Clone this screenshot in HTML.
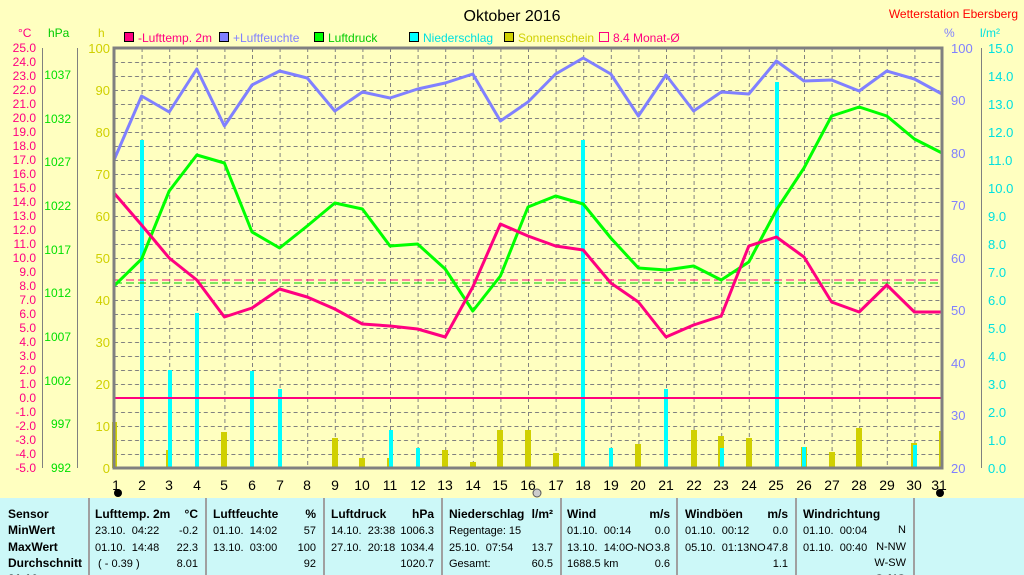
<!DOCTYPE html>
<html><head><meta charset="utf-8"><style>
body{margin:0;width:1024px;height:575px;overflow:hidden;background:#ffffc0;font-family:"Liberation Sans",Arial,sans-serif}
svg{position:absolute;left:0;top:0}
.t{position:absolute;top:498px;left:0;width:1024px;height:77px;background:#ccf8f8;overflow:hidden}
.c{position:absolute;top:0;height:77px;border-left:2px solid #a0a0a0}
.r{position:absolute;font-size:11px;white-space:nowrap;color:#000;line-height:16.3px;top:8px}
.r b{font-size:12px}
</style></head><body>
<svg width="1024" height="498" font-family="Liberation Sans, Arial, sans-serif">
<defs><pattern id="g" x="114" y="48" width="27.6" height="14" patternUnits="userSpaceOnUse">
<line x1="0" y1="0.5" x2="27.6" y2="0.5" stroke="#808080" stroke-dasharray="4,3"/>
<line x1="0.5" y1="0" x2="0.5" y2="14" stroke="#808080" stroke-dasharray="4,3"/>
</pattern></defs>
<rect x="114" y="48" width="828" height="420" fill="url(#g)"/>
<text x="512" y="21" font-size="16" text-anchor="middle">Oktober 2016</text>
<text x="1018" y="18" font-size="12" fill="#ff0000" text-anchor="end">Wetterstation Ebersberg</text>
<g font-size="12">
<rect x="124.5" y="32.5" width="9" height="9" fill="#ff0080" stroke="#000"/><text x="138" y="42" fill="#ff0080">-Lufttemp. 2m</text>
<rect x="219.5" y="32.5" width="9" height="9" fill="#8080ff" stroke="#000"/><text x="233" y="42" fill="#8080ff">+Luftfeuchte</text>
<rect x="314.5" y="32.5" width="9" height="9" fill="#00ff00" stroke="#000"/><text x="328" y="42" fill="#00cc00">Luftdruck</text>
<rect x="409.5" y="32.5" width="9" height="9" fill="#00ffff" stroke="#000"/><text x="423" y="42" fill="#00e0e0">Niederschlag</text>
<rect x="504.5" y="32.5" width="9" height="9" fill="#d0d000" stroke="#000"/><text x="518" y="42" fill="#d0d000">Sonnenschein</text>
<rect x="599.5" y="32.5" width="9" height="9" fill="none" stroke="#ff0080"/><text x="613" y="42" fill="#ff0080">8.4 Monat-Ø</text>
<text x="18" y="37" fill="#ff0080">°C</text><text x="48" y="37" fill="#00cc00">hPa</text><text x="98" y="37" fill="#d0d000">h</text>
<text x="944" y="37" fill="#8080ff">%</text><text x="980" y="37" fill="#00e0e0">l/m²</text>
</g>
<g stroke="#808080"><line x1="42.5" y1="48" x2="42.5" y2="468"/><line x1="77.5" y1="48" x2="77.5" y2="468"/><line x1="981.5" y1="48" x2="981.5" y2="468"/></g>
<g font-size="12" fill="#ff0080" text-anchor="end">
<text x="36" y="52">25.0</text><text x="36" y="66">24.0</text><text x="36" y="80">23.0</text><text x="36" y="94">22.0</text><text x="36" y="108">21.0</text><text x="36" y="122">20.0</text><text x="36" y="136">19.0</text><text x="36" y="150">18.0</text><text x="36" y="164">17.0</text><text x="36" y="178">16.0</text><text x="36" y="192">15.0</text><text x="36" y="206">14.0</text><text x="36" y="220">13.0</text><text x="36" y="234">12.0</text><text x="36" y="248">11.0</text><text x="36" y="262">10.0</text><text x="36" y="276">9.0</text><text x="36" y="290">8.0</text><text x="36" y="304">7.0</text><text x="36" y="318">6.0</text><text x="36" y="332">5.0</text><text x="36" y="346">4.0</text><text x="36" y="360">3.0</text><text x="36" y="374">2.0</text><text x="36" y="388">1.0</text><text x="36" y="402">0.0</text><text x="36" y="416">-1.0</text><text x="36" y="430">-2.0</text><text x="36" y="444">-3.0</text><text x="36" y="458">-4.0</text><text x="36" y="472">-5.0</text>
</g>
<g font-size="12" fill="#00e000" text-anchor="end">
<text x="71" y="79">1037</text><text x="71" y="123">1032</text><text x="71" y="166">1027</text><text x="71" y="210">1022</text><text x="71" y="254">1017</text><text x="71" y="297">1012</text><text x="71" y="341">1007</text><text x="71" y="385">1002</text><text x="71" y="428">997</text><text x="71" y="472">992</text>
</g>
<g font-size="13" fill="#d0d000" text-anchor="end">
<text x="110" y="53">100</text><text x="110" y="95">90</text><text x="110" y="137">80</text><text x="110" y="179">70</text><text x="110" y="221">60</text><text x="110" y="263">50</text><text x="110" y="305">40</text><text x="110" y="347">30</text><text x="110" y="389">20</text><text x="110" y="431">10</text><text x="110" y="473">0</text>
</g>
<g font-size="13" fill="#8080ff">
<text x="951" y="53">100</text><text x="951" y="105">90</text><text x="951" y="158">80</text><text x="951" y="210">70</text><text x="951" y="263">60</text><text x="951" y="315">50</text><text x="951" y="368">40</text><text x="951" y="420">30</text><text x="951" y="473">20</text>
</g>
<g font-size="13" fill="#00e0e0">
<text x="988" y="53">15.0</text><text x="988" y="81">14.0</text><text x="988" y="109">13.0</text><text x="988" y="137">12.0</text><text x="988" y="165">11.0</text><text x="988" y="193">10.0</text><text x="988" y="221">9.0</text><text x="988" y="249">8.0</text><text x="988" y="277">7.0</text><text x="988" y="305">6.0</text><text x="988" y="333">5.0</text><text x="988" y="361">4.0</text><text x="988" y="389">3.0</text><text x="988" y="417">2.0</text><text x="988" y="445">1.0</text><text x="988" y="473">0.0</text>
</g>
<g fill="#d0d000">
<rect x="112" y="422" width="5" height="46"/><rect x="166" y="450" width="6" height="18"/><rect x="221" y="432" width="6" height="36"/><rect x="332" y="438" width="6" height="30"/><rect x="359" y="458" width="6" height="10"/><rect x="387" y="458" width="6" height="10"/><rect x="442" y="450" width="6" height="18"/><rect x="470" y="462" width="6" height="6"/><rect x="497" y="430" width="6" height="38"/><rect x="525" y="430" width="6" height="38"/><rect x="553" y="453" width="6" height="15"/><rect x="635" y="444" width="6" height="24"/><rect x="691" y="430" width="6" height="38"/><rect x="718" y="436" width="6" height="32"/><rect x="746" y="438" width="6" height="30"/><rect x="801" y="447" width="6" height="21"/><rect x="829" y="452" width="6" height="16"/><rect x="856" y="428" width="6" height="40"/><rect x="911" y="443" width="6" height="25"/><rect x="939" y="431" width="4" height="37"/>
</g>
<g fill="#00ffff">
<rect x="140" y="140" width="4" height="328"/><rect x="168" y="370" width="4" height="98"/><rect x="195" y="313" width="4" height="155"/><rect x="250" y="371" width="4" height="97"/><rect x="278" y="389" width="4" height="79"/><rect x="389" y="430" width="4" height="38"/><rect x="416" y="448" width="4" height="20"/><rect x="581" y="140" width="4" height="328"/><rect x="609" y="448" width="4" height="20"/><rect x="664" y="389" width="4" height="79"/><rect x="720" y="448" width="4" height="20"/><rect x="775" y="82" width="4" height="386"/><rect x="802" y="447" width="4" height="21"/><rect x="913" y="445" width="4" height="23"/>
</g>
<line x1="114" y1="398" x2="942" y2="398" stroke="#ff0080" stroke-width="2"/>
<line x1="114" y1="280" x2="942" y2="280" stroke="#ff0080" stroke-dasharray="8,4"/>
<line x1="114" y1="283" x2="942" y2="283" stroke="#00cc00" stroke-dasharray="8,4"/>
<g fill="none" stroke-width="3" stroke-linejoin="round">
<polyline stroke="#00ff00" points="114,286 141.6,259 169.2,191 196.8,155 224.4,163 252,232 279.6,248 307.2,226 334.8,203 362.4,209 390,246 417.6,244 445.2,269 472.8,311 500.4,276 528,207 555.6,196 583.2,204 610.8,238 638.4,268 666,270 693.6,266 721.2,280 748.8,262 776.4,210 804,168 831.6,116 859.2,107 886.8,116 914.4,139 942,153"/>
<polyline stroke="#8080ff" points="114,160 141.6,96 169.2,112 196.8,69 224.4,126 252,85 279.6,71 307.2,78 334.8,111 362.4,92 390,98 417.6,89 445.2,83 472.8,74 500.4,121 528,102 555.6,74 583.2,58 610.8,74 638.4,116 666,75 693.6,111 721.2,92 748.8,94 776.4,61 804,81 831.6,80 859.2,91 886.8,71 914.4,79 942,94"/>
<polyline stroke="#ff0080" points="114,193 141.6,225 169.2,258 196.8,280 224.4,317 252,308 279.6,289 307.2,297 334.8,309 362.4,324 390,326 417.6,329 445.2,337 472.8,287 500.4,224 528,236 555.6,246 583.2,250 610.8,283 638.4,302 666,337 693.6,325 721.2,316 748.8,246 776.4,237 804,257 831.6,302 859.2,312 886.8,285 914.4,312 942,312"/>
</g>
<rect x="114" y="48" width="828" height="420" fill="none" stroke="#808080" stroke-width="3"/>
<g font-size="14" text-anchor="middle">
<text x="116" y="490">1</text><text x="142" y="490">2</text><text x="169" y="490">3</text><text x="197" y="490">4</text><text x="224" y="490">5</text><text x="252" y="490">6</text><text x="280" y="490">7</text><text x="307" y="490">8</text><text x="335" y="490">9</text><text x="362" y="490">10</text><text x="390" y="490">11</text><text x="418" y="490">12</text><text x="445" y="490">13</text><text x="473" y="490">14</text><text x="500" y="490">15</text><text x="528" y="490">16</text><text x="556" y="490">17</text><text x="583" y="490">18</text><text x="611" y="490">19</text><text x="638" y="490">20</text><text x="666" y="490">21</text><text x="694" y="490">22</text><text x="721" y="490">23</text><text x="749" y="490">24</text><text x="776" y="490">25</text><text x="804" y="490">26</text><text x="832" y="490">27</text><text x="859" y="490">28</text><text x="887" y="490">29</text><text x="914" y="490">30</text><text x="939" y="490">31</text>
</g>
<circle cx="118" cy="493" r="4" fill="#000"/><circle cx="537" cy="493" r="4" fill="#ccc" stroke="#555"/><circle cx="940" cy="493" r="4" fill="#000"/>
</svg>
<div class="t">
<div class="c" style="left:88px"></div><div class="c" style="left:205px"></div><div class="c" style="left:323px"></div><div class="c" style="left:441px"></div><div class="c" style="left:560px"></div><div class="c" style="left:676px"></div><div class="c" style="left:795px"></div><div class="c" style="left:913px"></div>
<div class="r" style="left:8px;font-weight:bold;font-size:12px">Sensor<br>MinWert<br>MaxWert<br>Durchschnitt<br>31.10.</div>
<div class="r" style="left:95px"><b>Lufttemp. 2m</b><br>23.10.&nbsp; 04:22<br>01.10.&nbsp; 14:48<br>&nbsp;( - 0.39 )</div>
<div class="r" style="right:826px;text-align:right"><b>°C</b><br>-0.2<br>22.3<br>8.01<br><b>6.1</b></div>
<div class="r" style="left:213px"><b>Luftfeuchte</b><br>01.10.&nbsp; 14:02<br>13.10.&nbsp; 03:00</div>
<div class="r" style="right:708px;text-align:right"><b>%</b><br>57<br>100<br>92<br><b style="color:red">91</b></div>
<div class="r" style="left:331px"><b>Luftdruck</b><br>14.10.&nbsp; 23:38<br>27.10.&nbsp; 20:18</div>
<div class="r" style="right:590px;text-align:right"><b>hPa</b><br>1006.3<br>1034.4<br>1020.7<br><b>1027.0</b></div>
<div class="r" style="left:449px"><b>Niederschlag</b><br>Regentage: 15<br>25.10.&nbsp; 07:54<br>Gesamt:<br>-60.5 l/m²</div>
<div class="r" style="right:471px;text-align:right"><b>l/m²</b><br>&nbsp;<br>13.7<br>60.5<br><b>0.0</b></div>
<div class="r" style="left:567px"><b>Wind</b><br>01.10.&nbsp; 00:14<br>13.10.&nbsp; 14:0O-NO<br>1688.5 km<br>-1.0% O-NO</div>
<div class="r" style="right:354px;text-align:right"><b>m/s</b><br>0.0<br>3.8<br>0.6<br><b>0.7</b></div>
<div class="r" style="left:685px"><b>Windböen</b><br>01.10.&nbsp; 00:12<br>05.10.&nbsp; 01:13NO<br>&nbsp;<br>-1.0% O-NO</div>
<div class="r" style="right:236px;text-align:right"><b>m/s</b><br>0.0<br>47.8<br>1.1<br><b>1.4</b></div>
<div class="r" style="left:803px"><b>Windrichtung</b><br>01.10.&nbsp; 00:04<br>01.10.&nbsp; 00:40<br>&nbsp;<br>-69 °</div>
<div class="r" style="right:118px;text-align:right">&nbsp;<br>N<br>N-NW<br>W-SW<br><b>O-NO</b></div>
</div>
</body></html>
